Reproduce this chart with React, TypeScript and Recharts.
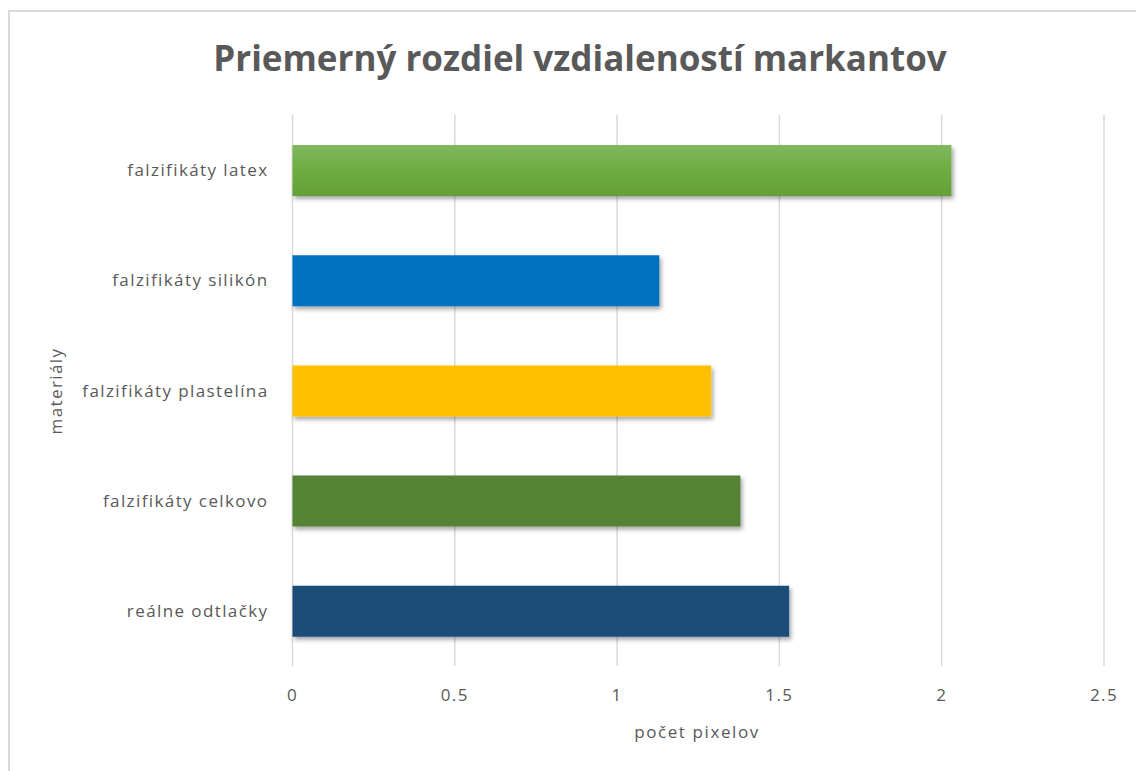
import { BarChart, Bar, XAxis, YAxis, CartesianGrid, Cell } from "recharts";

const categories = [
  "falzifikáty latex",
  "falzifikáty silikón",
  "falzifikáty plastelína",
  "falzifikáty celkovo",
  "reálne odtlačky",
];
const values = [2.03, 1.13, 1.29, 1.38, 1.53];
const colors = ["url(#latexGrad)", "#0070C0", "#FFC000", "#548235", "#1F4E79"];
const xTicks = [0, 0.5, 1, 1.5, 2, 2.5];

const data = categories.map((name, i) => ({ name, value: values[i] }));

const font = "'Open Sans', 'Noto Sans', sans-serif";
const textColor = "#595959";

const tickStyle = {
  fill: textColor,
  fontSize: 17,
  fontFamily: font,
  letterSpacing: 1.4,
};

const App = () => {
  return (
    <div
      style={{
        position: "absolute",
        left: 0,
        top: 0,
        width: 1136,
        height: 771,
        background: "#fff",
        overflow: "hidden",
        fontFamily: font,
      }}
    >
      <div
        style={{
          position: "absolute",
          left: 8,
          top: 10,
          width: 1140,
          height: 780,
          borderLeft: "2px solid #d9d9d9",
          borderTop: "2px solid #d9d9d9",
        }}
      />
      <div
        style={{
          position: "absolute",
          left: 0,
          width: 1160,
          top: 34,
          textAlign: "center",
          fontSize: 35,
          fontWeight: 700,
          color: textColor,
          whiteSpace: "nowrap",
        }}
      >
        Priemerný rozdiel vzdialeností markantov
      </div>
      <div
        style={{
          position: "absolute",
          left: 0,
          width: 1394,
          top: 720,
          textAlign: "center",
          fontSize: 17,
          letterSpacing: 1.6,
          color: textColor,
        }}
      >
        počet pixelov
      </div>
      <div
        style={{
          position: "absolute",
          left: 56 - 100,
          top: 391 - 12,
          width: 200,
          height: 24,
          lineHeight: "24px",
          textAlign: "center",
          fontSize: 17,
          letterSpacing: 1.4,
          color: textColor,
          transform: "rotate(-90deg)",
          whiteSpace: "nowrap",
        }}
      >
        materiály
      </div>
      <BarChart
        width={1136}
        height={771}
        layout="vertical"
        data={data}
        margin={{ top: 115, right: 32, bottom: 75, left: 0 }}
        style={{ position: "absolute", left: 0, top: 0 }}
      >
        <defs>
          <linearGradient id="latexGrad" x1="0" y1="0" x2="0" y2="1">
            <stop offset="0%" stopColor="#81B85E" />
            <stop offset="50%" stopColor="#6EAC42" />
            <stop offset="100%" stopColor="#64A036" />
          </linearGradient>
          <filter id="barShadow" x="-10%" y="-30%" width="120%" height="170%">
            <feDropShadow dx="2" dy="3" stdDeviation="2" floodColor="#000" floodOpacity="0.35" />
          </filter>
        </defs>
        <CartesianGrid horizontal={false} stroke="#d9d9d9" strokeWidth={1.5} />
        <XAxis
          type="number"
          domain={[0, 2.5]}
          ticks={xTicks}
          axisLine={false}
          tickLine={false}
          tickMargin={17}
          height={30}
          tick={tickStyle}
        />
        <YAxis
          type="category"
          dataKey="name"
          width={292.5}
          axisLine={false}
          tickLine={false}
          tickMargin={18}
          tick={tickStyle}
        />
        <Bar dataKey="value" barSize={51} isAnimationActive={false} filter="url(#barShadow)">
          {data.map((d, i) => (
            <Cell key={d.name} fill={colors[i]} />
          ))}
        </Bar>
      </BarChart>
    </div>
  );
};

export default App;
